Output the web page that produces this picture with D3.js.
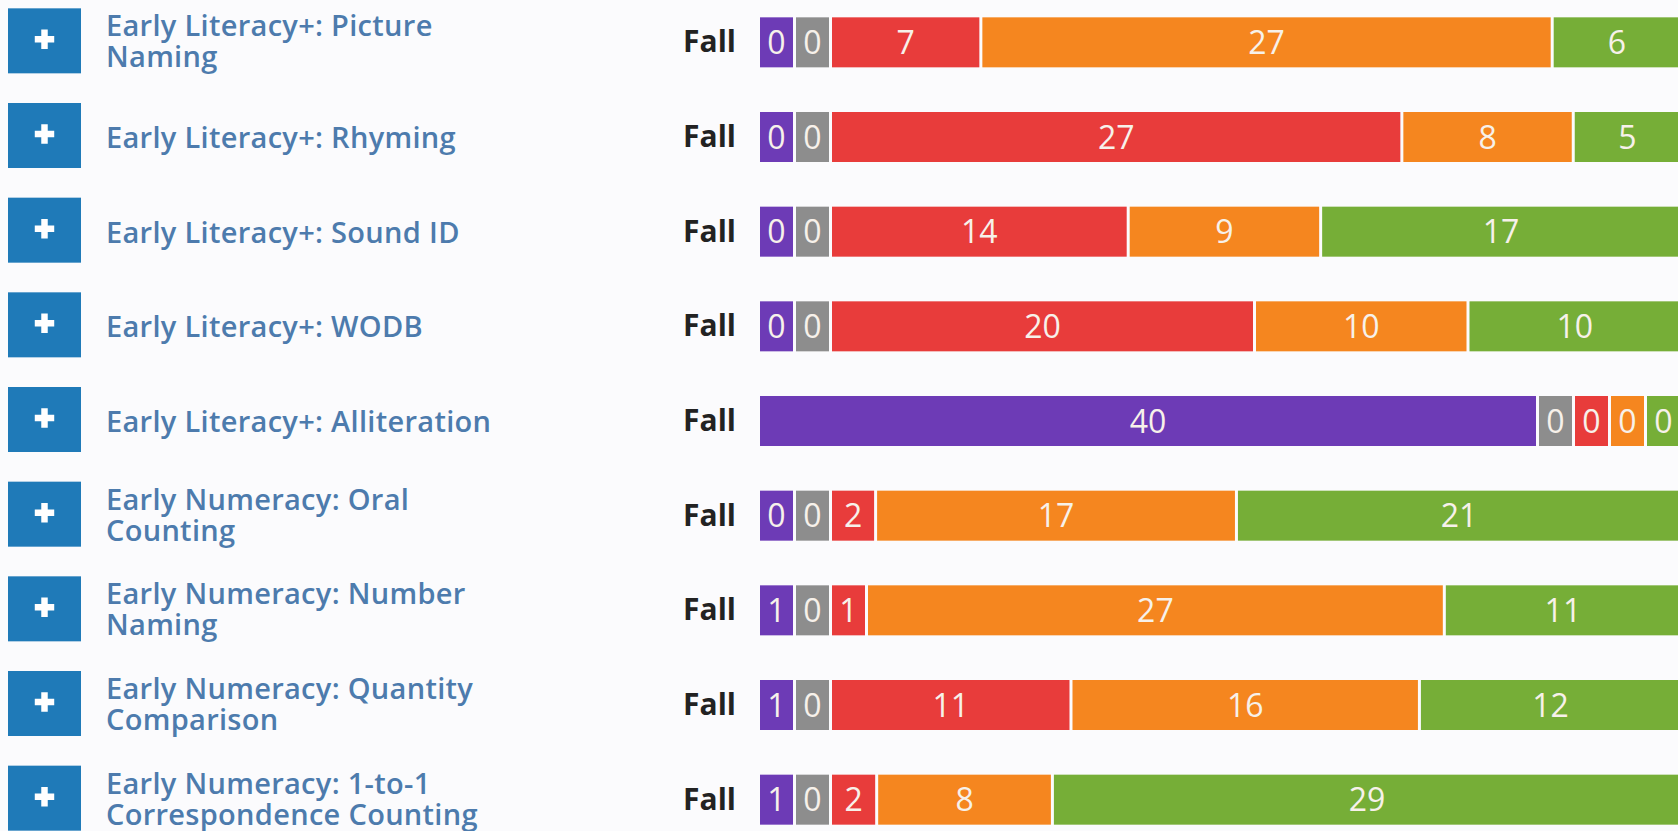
<!DOCTYPE html>
<html>
<head>
<meta charset="utf-8">
<script src="https://cdn.jsdelivr.net/npm/d3@7"></script>
<style>
  html, body { margin: 0; padding: 0; background: #fbfbfd; overflow: hidden; }
  svg { display: block; font-family: "Open Sans", sans-serif; }
</style>
</head>
<body>
<div id="chart"></div>
<script>
// measures, one row each
const labels = [
  ["Early Literacy+: Picture", "Naming"],
  ["Early Literacy+: Rhyming"],
  ["Early Literacy+: Sound ID"],
  ["Early Literacy+: WODB"],
  ["Early Literacy+: Alliteration"],
  ["Early Numeracy: Oral", "Counting"],
  ["Early Numeracy: Number", "Naming"],
  ["Early Numeracy: Quantity", "Comparison"],
  ["Early Numeracy: 1-to-1", "Correspondence Counting"]
];
const season = "Fall";

// student counts per band
const purple = [0, 0, 0, 0, 40, 0, 1, 1, 1];
const gray   = [0, 0, 0, 0, 0, 0, 0, 0, 0];
const red    = [7, 27, 14, 20, 0, 2, 1, 11, 2];
const orange = [27, 8, 9, 10, 0, 17, 27, 16, 8];
const green  = [6, 5, 17, 10, 0, 21, 11, 12, 29];

const series = [purple, gray, red, orange, green];
const colors = ["#6d3bb6", "#8d8d8d", "#e83c3b", "#f5861f", "#76ae37"];

const width = 1678, height = 831;
const barX = 760, barW = 920, barH = 50;
const minW = 33, gap = 3;

const svg = d3.select("#chart").append("svg")
    .attr("width", width)
    .attr("height", height);

const y = d3.scaleBand()
    .domain(d3.range(labels.length))
    .range([-5, 847])
    .paddingInner(0);

// split one row across the bar like a flex box: tiny cells keep a min width
function layoutRow(vals) {
  let fixed = vals.map(() => false);
  let scale;
  for (let k = 0; k < vals.length; k++) {
    const nFixed = fixed.filter(f => f).length;
    const free = d3.sum(vals.filter((v, i) => !fixed[i]));
    const room = barW - gap * (vals.length - 1) - nFixed * minW;
    scale = d3.scaleLinear().domain([0, free || 1]).range([0, room]);
    let changed = false;
    vals.forEach((v, i) => {
      if (!fixed[i] && scale(v) < minW) { fixed[i] = true; changed = true; }
    });
    if (!changed) break;
  }
  let x = barX;
  return vals.map((v, i) => {
    const w = fixed[i] ? minW : scale(v);
    const seg = {value: v, x: x, w: w, color: colors[i]};
    x += w + gap;
    return seg;
  });
}

const rows = svg.selectAll("g.row")
    .data(labels)
    .join("g")
    .attr("class", "row")
    .attr("transform", (d, i) => "translate(0," + (y(i) + y.bandwidth() / 2) + ")");

// expand button
rows.append("rect")
    .attr("x", 8)
    .attr("y", -34)
    .attr("width", 73)
    .attr("height", 65)
    .attr("fill", "#1f7ab8");

rows.append("path")
    .attr("transform", "translate(44.5,-3)")
    .attr("d", d3.symbol().type(d3.symbolCross).size(210))
    .attr("fill", "#fff");

rows.append("text")
    .attr("fill", "#4d7bad")
    .attr("font-size", 29)
    .attr("font-weight", 600)
    .attr("letter-spacing", 0.3)
    .selectAll("tspan")
    .data(d => d.map(t => ({t: t, n: d.length})))
    .join("tspan")
      .attr("x", 106)
      .attr("y", (d, j) => d.n === 1 ? 11 : -6 + j * 31)
      .text(d => d.t);

rows.append("text")
    .attr("x", 736)
    .attr("y", 10)
    .attr("text-anchor", "end")
    .attr("fill", "#222")
    .attr("font-size", 30)
    .attr("font-weight", 700)
    .text(season);

const segs = rows.selectAll("g.seg")
    .data((d, i) => layoutRow(series.map(s => s[i])))
    .join("g")
    .attr("class", "seg");

segs.append("rect")
    .attr("x", d => d.x)
    .attr("y", -barH / 2)
    .attr("width", d => d.w)
    .attr("height", barH)
    .attr("fill", d => d.color);

segs.append("text")
    .attr("x", d => d.x + d.w / 2)
    .attr("y", 0)
    .attr("dy", "0.36em")
    .attr("text-anchor", "middle")
    .attr("fill", "#f7f1ea")
    .attr("font-size", 32)
    .text(d => d.value);
</script>
</body>
</html>
